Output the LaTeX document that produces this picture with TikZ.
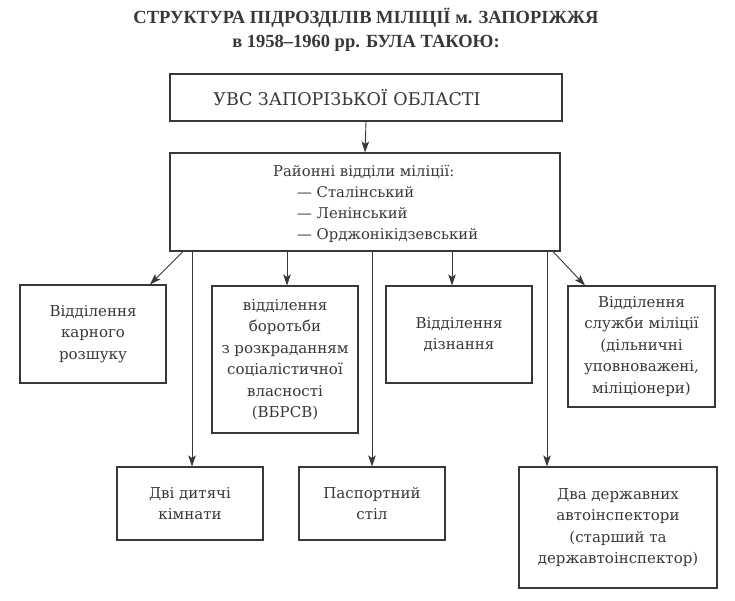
\documentclass[tikz,border=0pt]{standalone}
\usepackage{fontspec}
\setmainfont{DejaVu Serif}
\newfontfamily\titlefont{Liberation Serif}
\usetikzlibrary{arrows.meta}
\definecolor{ink}{rgb}{0.22,0.22,0.22}
\begin{document}
\begin{tikzpicture}[x=1pt,y=-1pt,
  box/.style={draw=ink, line width=1.1pt, rectangle, inner sep=0pt, align=center,
    text=ink, font=\fontsize{15}{21.5}\selectfont},
  arr/.style={draw=ink, line width=0.9pt, -{Stealth[length=11pt,width=7.5pt,inset=2.5pt]}}]
\useasboundingbox (0,0) rectangle (735,600);
\fill[white] (0,0) rectangle (735,600);
% title
\node[text=ink, font=\titlefont\bfseries\fontsize{18.5}{24}\selectfont, align=center] (title) at (366,30)
  {СТРУКТУРА ПІДРОЗДІЛІВ МІЛІЦІЇ м. ЗАПОРІЖЖЯ\\в 1958–1960 рр. БУЛА ТАКОЮ:};
% boxes
\node[box, minimum width=392pt, minimum height=47pt] (uvs) at (366,97.5) {};
\node[text=ink, font=\fontsize{17.5}{20}\selectfont] (uvstxt) at (347,98) {УВС ЗАПОРІЗЬКОЇ ОБЛАСТІ};
\node[box, minimum width=390pt, minimum height=98pt] (dist) at (365,202) {};
\node[text=ink, font=\fontsize{14.8}{21}\selectfont, align=left, anchor=west, inner sep=0pt] (disttxt) at (273,204)
  {Районні відділи міліції:\\\hspace*{24pt}— Сталінський\\\hspace*{24pt}— Ленінський\\\hspace*{24pt}— Орджонікідзевський};
\node[box, minimum width=146pt, minimum height=98pt] (karn) at (93,334) {Відділення\\карного\\розшуку};
\node[box, minimum width=146pt, minimum height=147pt] (vbrsv) at (285,359.5)
  {відділення\\боротьби\\з розкраданням\\соціалістичної\\власності\\(ВБРСВ)};
\node[box, minimum width=146pt, minimum height=97pt] (dizn) at (459,334.5) {Відділення\\дізнання};
\node[box, minimum width=147pt, minimum height=121pt] (sluzh) at (641.5,346.5)
  {Відділення\\служби міліції\\(дільничні\\уповноважені,\\міліціонери)};
\node[box, minimum width=146pt, minimum height=73pt] (dyt) at (190,503.5) {Дві дитячі\\кімнати};
\node[box, minimum width=146pt, minimum height=73pt] (pasp) at (372,503.5) {Паспортний\\стіл};
\node[box, minimum width=198pt, minimum height=121pt] (dva) at (618,527.5)
  {Два державних\\автоінспектори\\(старший та\\державтоінспектор)};
% connectors
\draw[arr] (uvs.south) -- (dist.north);
\draw[arr] (dist.south -| 183,0) -- (karn.north -| 150,0);
\draw[arr] (dist.south -| 192,0) -- (dyt.north -| 192,0);
\draw[arr] (dist.south -| 287,0) -- (vbrsv.north -| 287,0);
\draw[arr] (dist.south -| 372,0) -- (pasp.north);
\draw[arr] (dist.south -| 452,0) -- (dizn.north -| 452,0);
\draw[arr] (dist.south -| 547,0) -- (dva.north -| 547,0);
\draw[arr] (dist.south -| 553,0) -- (sluzh.north -| 585,0);
\end{tikzpicture}
\end{document}
